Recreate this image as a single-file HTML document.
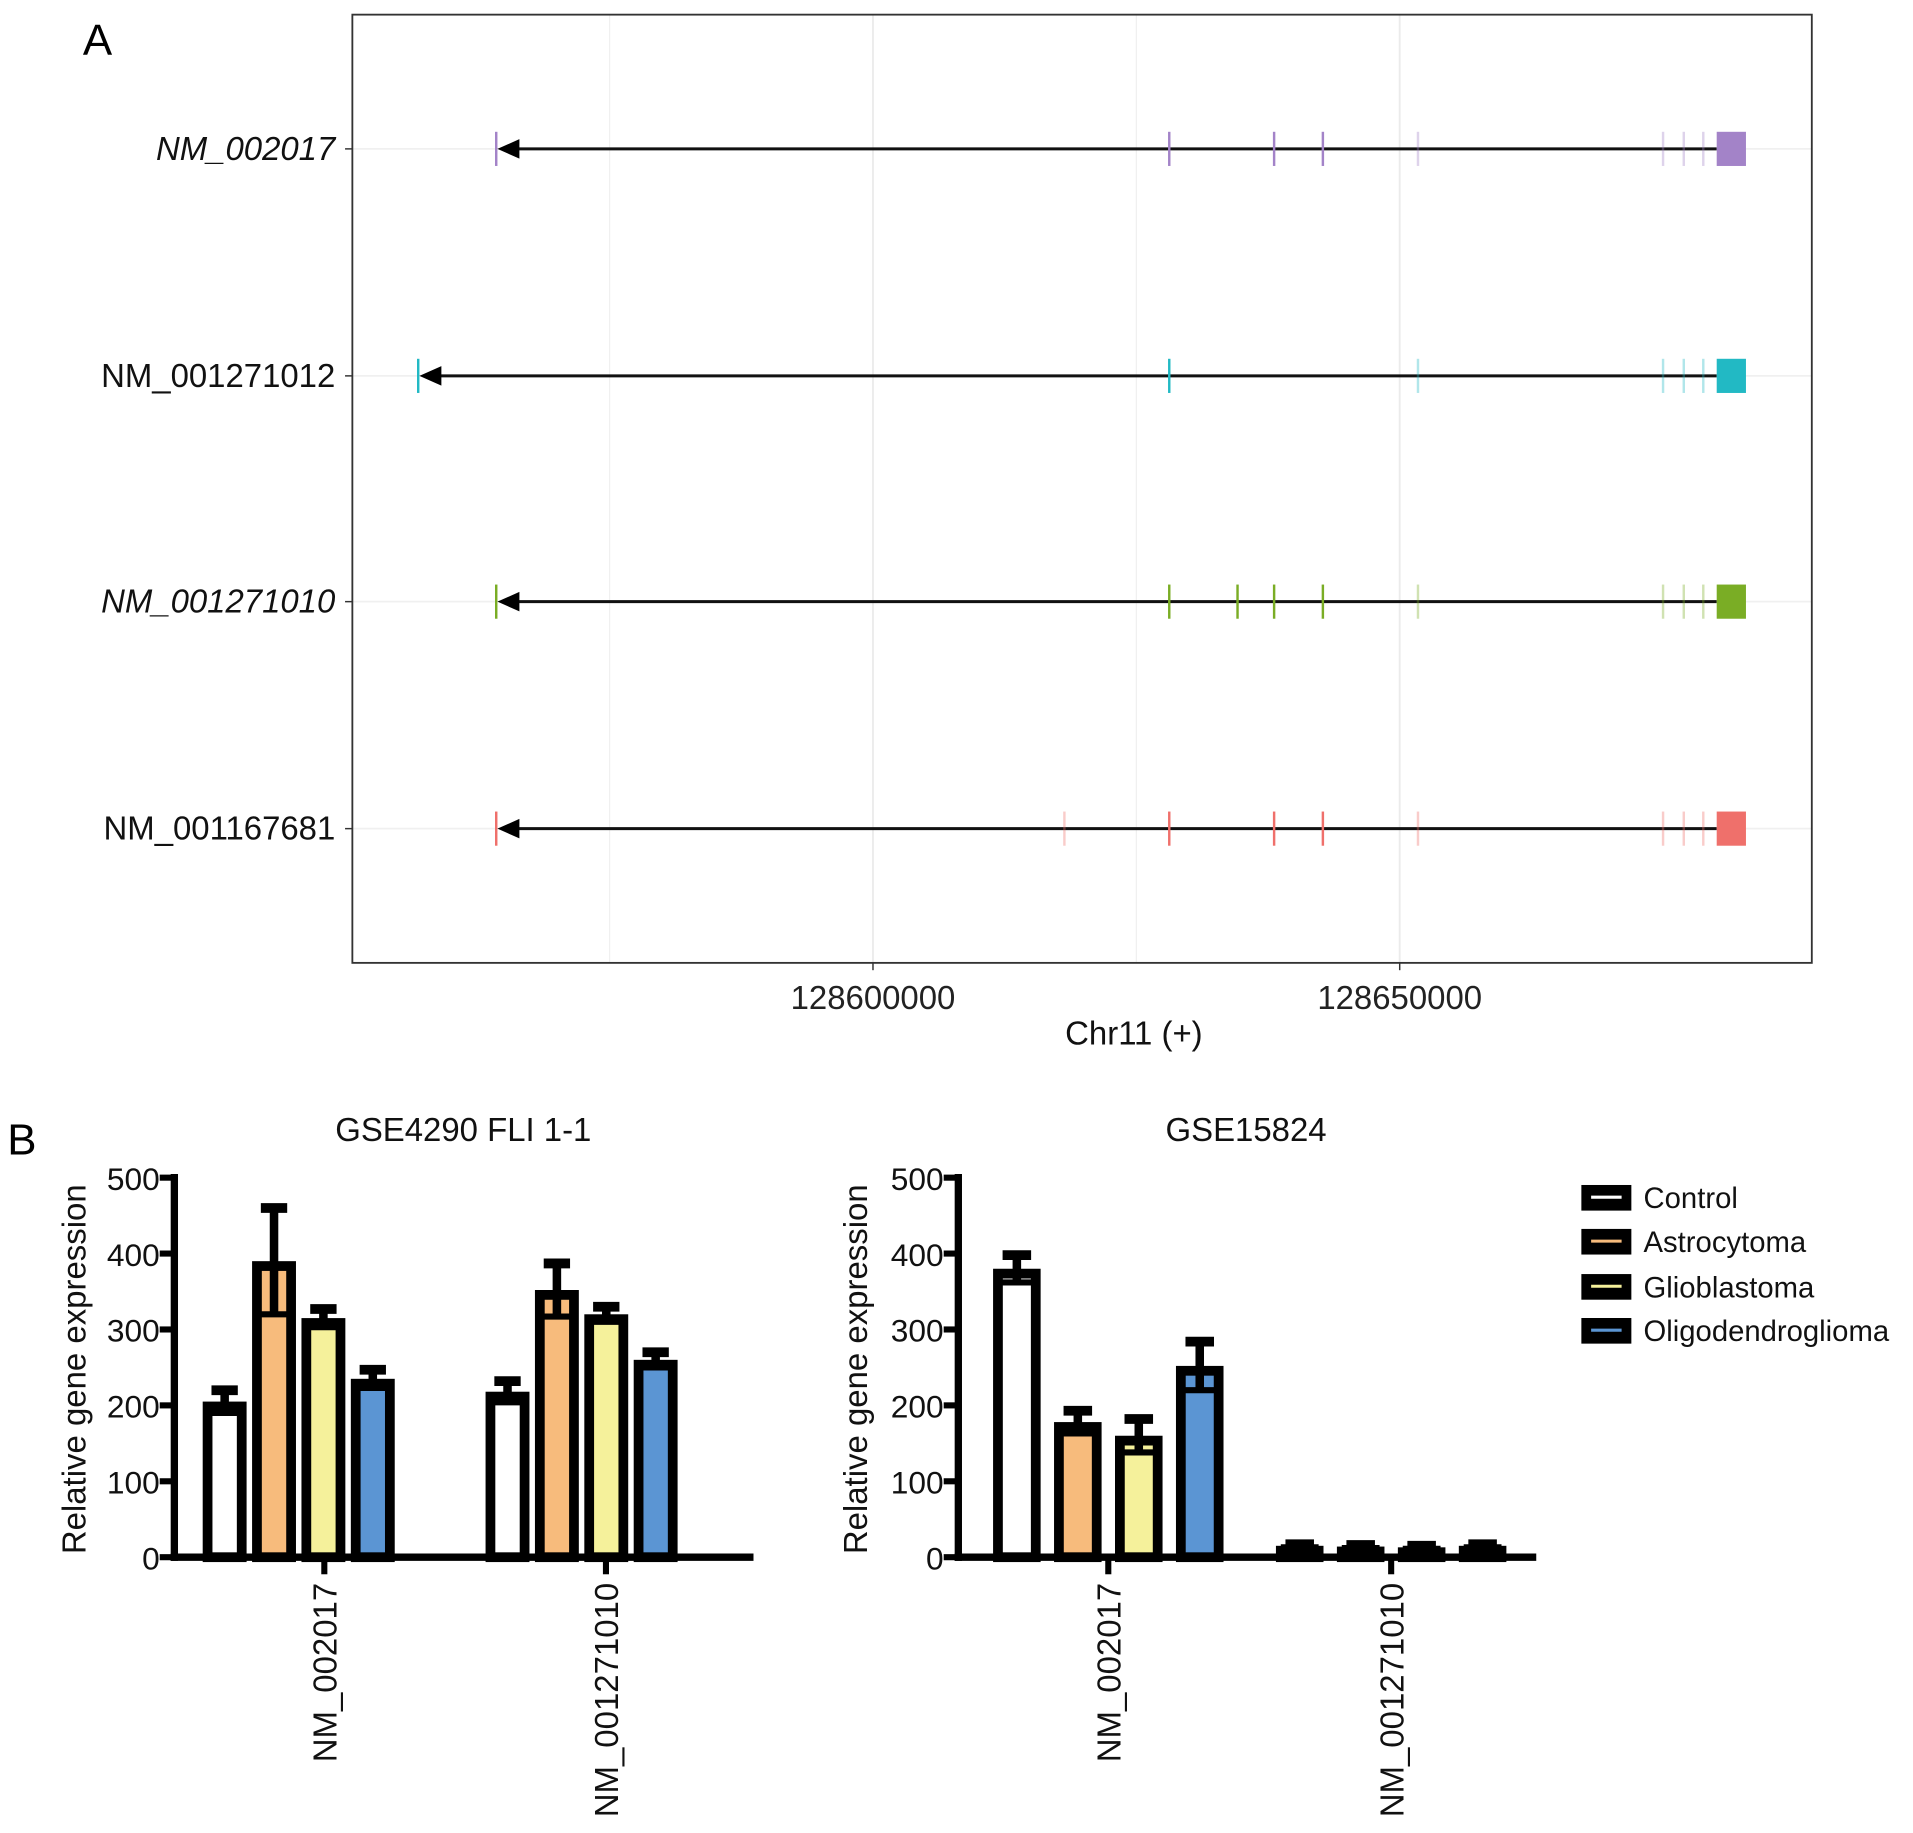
<!DOCTYPE html>
<html><head><meta charset="utf-8"><style>
html,body{margin:0;padding:0;background:#fff;}
svg{display:block;}
text{font-family:"Liberation Sans",sans-serif;}
</style></head><body>
<svg id="fig" width="1913" height="1833" viewBox="0 0 1569 1502" preserveAspectRatio="none" xmlns="http://www.w3.org/2000/svg">
<g id="panelA"></g>
<g id="panelB"></g>
</svg>
<script>
// ---------- Panel A data ----------
const transcripts = ["NM_002017","NM_001271012","NM_001271010","NM_001167681"];
const italicLabels = [true,false,true,false];
const txColors = ["#a383c8","#22b9c4","#7aad25","#ef706b"];
const txStarts = [128564236,128556829,128564236,128564236];
const exonsA = [
 [128628125,128638079,128642708,128651736,128675000,128676968,128678819],
 [128628125,128651736,128675000,128676968,128678819],
 [128628125,128634606,128638079,128642708,128651736,128675000,128676968,128678819],
 [128618171,128628125,128638079,128642708,128651736,128675000,128676968,128678819]
];
const faintExons = [128651736,128675000,128676968,128678819,128618171];
const lastExonStart = 128680093, lastExonEnd = 128682870;
const genomeTicks = [128600000,128650000];
const genomeMinor = [128575000,128625000];

// ---------- Panel B data ----------
const groupsB = ["NM_002017","NM_001271010"];
const seriesNames = ["Control","Astrocytoma","Glioblastoma","Oligodendroglioma"];
const seriesColors = ["#ffffff","#f7bb7c","#f5f19b","#5b95d3"];
const leftVals = [[205,218],[390,352],[315,320],[235,260]];
const leftErr = [[15,14],[70,35],[12,10],[12,10]];
const rightVals = [[380,15],[178,14],[160,13],[252,15]];
const rightErr = [[18,2],[15,2],[22,2],[32,2]];
const yTicksB = [0,100,200,300,400,500];

const NS="http://www.w3.org/2000/svg";
function mk(tag, attrs, parent, txt){const e=document.createElementNS(NS,tag);for(const k in attrs)e.setAttribute(k,attrs[k]);if(txt!==undefined)e.textContent=txt;parent.appendChild(e);return e;}

// ---------- Panel A ----------
const A=document.getElementById('panelA');
const gx = v => 716 + (v-128600000)/1000*8.64;
const rowY = [122,308,493,679];
let t;
t=mk('text',{x:68,y:45,'font-size':36},A,'A');


genomeMinor.forEach(v=>{const l=mk('line',{x1:gx(v),x2:gx(v),y1:12,y2:789,stroke:'#f0f0f0','stroke-width':1},A);

});
genomeTicks.forEach(v=>{const l=mk('line',{x1:gx(v),x2:gx(v),y1:12,y2:789,stroke:'#ebebeb','stroke-width':1.5},A);


const tk=mk('line',{x1:gx(v),x2:gx(v),y1:789,y2:795,stroke:'#333','stroke-width':1.2},A);


const tl=mk('text',{x:gx(v),y:827,'text-anchor':'middle','font-size':27,fill:'#222'},A,String(v));

});
rowY.forEach(y=>{const l=mk('line',{x1:289,x2:1486,y1:y,y2:y,stroke:'#f0f0f0','stroke-width':1.5},A);

});
transcripts.forEach((name,i)=>{
  const y=rowY[i], c=txColors[i];
  const g=mk('g',{},A);
  
  
  const lb=mk('text',{x:275,y:y+9,'text-anchor':'end','font-size':27,fill:'#111','font-style':italicLabels[i]?'italic':'normal'},g,name);
  
  
  const tk=mk('line',{x1:283,x2:289,y1:y,y2:y,stroke:'#333','stroke-width':1.2},g);
  
  
  const x0=gx(txStarts[i]);
  const ln=mk('line',{x1:x0+10,x2:gx(lastExonStart),y1:y,y2:y,stroke:'#111','stroke-width':2.5},g);
  
  
  const st=mk('line',{x1:x0,x2:x0,y1:y-14,y2:y+14,stroke:c,'stroke-width':2},g);
  
  
  const ar=mk('polygon',{points:`${x0+1},${y} ${x0+19},${y-8} ${x0+19},${y+8}`,fill:'#000'},g);
  
  
  exonsA[i].forEach(v=>{const e=mk('line',{x1:gx(v),x2:gx(v),y1:y-14,y2:y+14,stroke:c,'stroke-width':2,opacity:faintExons.includes(v)?0.35:1},g);
  
  });
  const bx=mk('rect',{x:gx(lastExonStart),y:y-14,width:gx(lastExonEnd)-gx(lastExonStart),height:28,fill:c},g);
  
  
});
const fr=mk('rect',{x:289,y:12,width:1197,height:777,fill:'none',stroke:'#333','stroke-width':1.5},A);


t=mk('text',{x:930,y:856,'text-anchor':'middle','font-size':27,fill:'#111'},A,'Chr11 (+)');



// ---------- Panel B ----------
const B=document.getElementById('panelB');
t=mk('text',{x:6,y:946,'font-size':36},B,'B');


const yB = v => 1276 - v*0.622;
function barChart(axX, axEnd, tickCenters, barCenters, barW, vals, errs, title, titleX, ylabX, key){
  const g=mk('g',{},B);
  
  
  const ti=mk('text',{x:titleX,y:935,'text-anchor':'middle','font-size':27,fill:'#111'},g,title);
  
  
  const yl=mk('text',{x:0,y:0,'text-anchor':'middle','font-size':27,fill:'#111',transform:`translate(${ylabX},1122) rotate(-90)`},g,'Relative gene expression');
  
  
  yTicksB.forEach(v=>{
    const tk=mk('line',{x1:axX-12,x2:axX,y1:yB(v),y2:yB(v),stroke:'#000','stroke-width':5},g);
    
    
    const tl=mk('text',{x:axX-12,y:yB(v)+10,'text-anchor':'end','font-size':26,fill:'#111'},g,String(v));
    
    
  });
  vals.forEach((sv,si)=>{
    sv.forEach((v,gi)=>{
      const cx=barCenters[gi][si], top=yB(v), e=errs[si][gi];
      const r=mk('rect',{x:cx-barW/2+4,y:top+4,width:barW-8,height:Math.max(0,yB(0)-top-4),fill:seriesColors[si],stroke:'#000','stroke-width':8},g);
      
      
      const el=mk('line',{x1:cx,x2:cx,y1:yB(v+e),y2:yB(v-e),stroke:'#000','stroke-width':7},g);
      
      
      const c1=mk('line',{x1:cx-barW*0.3,x2:cx+barW*0.3,y1:yB(v+e),y2:yB(v+e),stroke:'#000','stroke-width':8},g);
      
      
      const c2=mk('line',{x1:cx-barW/2+4,x2:cx+barW/2-4,y1:yB(v-e),y2:yB(v-e),stroke:'#000','stroke-width':5},g);
      
      
    });
  });
  const ya=mk('line',{x1:axX,x2:axX,y1:yB(500)-3,y2:yB(0)+3,stroke:'#000','stroke-width':6},g);
  
  
  const xa=mk('line',{x1:axX-3,x2:axEnd,y1:yB(0),y2:yB(0),stroke:'#000','stroke-width':6},g);
  
  
  groupsB.forEach((name,gi)=>{
    const cx=tickCenters[gi];
    const tk=mk('line',{x1:cx,x2:cx,y1:yB(0),y2:yB(0)+14,stroke:'#000','stroke-width':5},g);
    
    
    const tl=mk('text',{x:0,y:0,'text-anchor':'end','font-size':27,fill:'#111',transform:`translate(${cx+10},1297) rotate(-90)`},g,name);
    
    
  });
}
function centers(gc, step){return gc.map(c=>[0,1,2,3].map(k=>c+(k-1.5)*step));}
barChart(143,618,[266,497],centers([245,477],40.5),36,leftVals,leftErr,'GSE4290 FLI 1-1',380,70,'gse4290');
barChart(786,1260,[909,1141],centers([909,1141],50),39,rightVals,rightErr,'GSE15824',1022,711,'gse15824');

// legend
const L=mk('g',{},B);


const legY=[981,1017,1054,1090];
seriesNames.forEach((n,i)=>{
  const e=mk('g',{},L);
  
  
  mk('rect',{x:1297,y:legY[i]-10,width:41,height:21,fill:'#000'},e);
  mk('line',{x1:1305,x2:1330,y1:legY[i],y2:legY[i],stroke:seriesColors[i],'stroke-width':2.5},e);
  mk('text',{x:1348,y:legY[i]+9,'font-size':24,fill:'#111'},e,n);
});
</script>
</body></html>
